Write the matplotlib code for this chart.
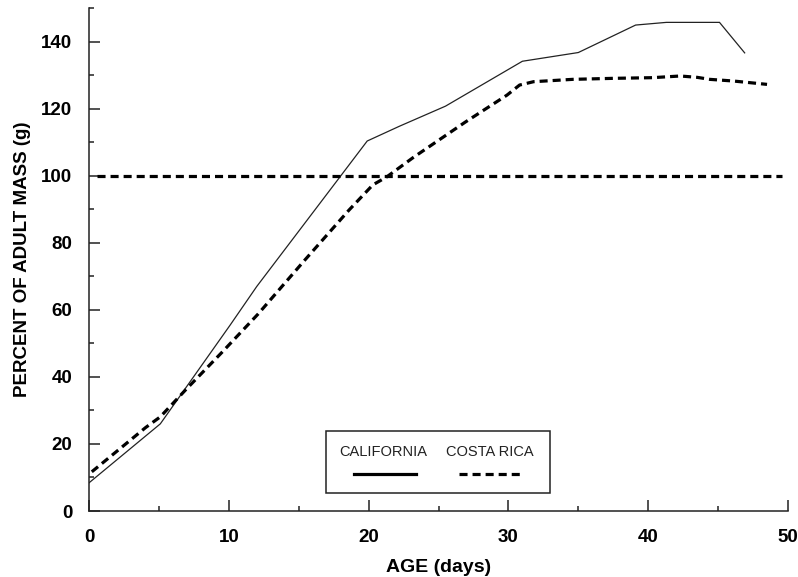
import matplotlib
matplotlib.use('Agg')
import matplotlib.pyplot as plt
from matplotlib.patches import Rectangle
from matplotlib.ticker import MultipleLocator

# California (solid line)
ca_age = [0, 5.1, 10.1, 12.0, 19.9, 22.2, 25.5, 31.0, 35.0, 39.1, 41.3, 45.1, 46.9]
ca_mass = [8.4, 26.0, 55.5, 67.0, 110.4, 114.8, 120.8, 134.2, 136.8, 145.0, 145.8, 145.8, 136.7]

# Costa Rica (dashed line)
cr_age = [0.2, 2.1, 4.05, 5.1, 6.9, 9.5, 12.1, 15.4, 18.6, 20.3, 21.3, 23.2, 26.9, 29.9, 30.8,
          31.8, 34.6, 37.5, 40.3, 42.3, 43.5, 44.4, 46.1, 48.5]
cr_mass = [11.7, 18.2, 24.9, 28.1, 36.1, 47.3, 58.8, 74.7, 89.8, 97.3, 99.7, 105.5, 116.0, 124.1, 127.1,
           128.1, 128.8, 129.1, 129.3, 129.8, 129.4, 128.8, 128.3, 127.3]

adult_age = [0.6, 49.6]
adult_mass = [100, 100]

legend_labels = ['CALIFORNIA', 'COSTA RICA']


def main():
    plt.rcParams['font.family'] = ['Liberation Sans', 'DejaVu Sans']
    plt.rcParams['lines.scale_dashes'] = False

    fig = plt.figure(figsize=(7.98, 5.77), dpi=100)
    ax = fig.add_axes([89 / 798, 66 / 577, 699 / 798, 502.7 / 577])

    dash = (0, (5.8, 3.6))
    ax.plot(ca_age, ca_mass, color='#222222', lw=0.9, solid_joinstyle='miter')
    ax.plot(cr_age, cr_mass, color='black', lw=2.3, linestyle=dash)
    ax.plot(adult_age, adult_mass, color='black', lw=2.3, linestyle=dash)

    ax.set_xlim(0, 50)
    ax.set_ylim(0, 150)
    ax.xaxis.set_major_locator(MultipleLocator(10))
    ax.xaxis.set_minor_locator(MultipleLocator(5))
    ax.yaxis.set_minor_locator(MultipleLocator(10))
    ax.set_yticks([0, 20, 40, 60, 80, 100, 120, 140])

    for side in ['top', 'right']:
        ax.spines[side].set_visible(False)
    for side in ['left', 'bottom']:
        ax.spines[side].set_linewidth(1.1)
        ax.spines[side].set_color('#222222')

    ax.tick_params(which='major', direction='in', length=8, width=1.1, color='#222222',
                   labelsize=13.5)
    ax.tick_params(which='minor', direction='in', length=3.5, width=1.1, color='#222222')
    ax.tick_params(axis='x', pad=13)
    ax.tick_params(axis='y', pad=12)
    for lab in ax.get_xticklabels() + ax.get_yticklabels():
        lab.set_fontweight('bold')

    ax.set_xlabel('AGE (days)', fontsize=14, fontweight='bold', labelpad=9)
    ax.set_ylabel('PERCENT OF ADULT MASS (g)', fontsize=13.5, fontweight='bold', labelpad=7)

    # legend box drawn by hand: labels above the line samples
    ax.add_patch(Rectangle((0.339, 0.036), 0.3205, 0.123, transform=ax.transAxes,
                           fill=False, edgecolor='#222222', lw=1.1, clip_on=False))
    ax.text(0.421, 0.118, legend_labels[0], transform=ax.transAxes, ha='center', va='center',
            fontsize=10.5, color='#222222')
    ax.text(0.574, 0.118, legend_labels[1], transform=ax.transAxes, ha='center', va='center',
            fontsize=10.5, color='#222222')
    ax.plot([0.379, 0.468], [0.0736, 0.0736], transform=ax.transAxes, color='black', lw=2.3)
    ax.plot([0.529, 0.619], [0.0736, 0.0736], transform=ax.transAxes, color='black', lw=2.3,
            linestyle=dash)

    fig.savefig('out.png', dpi=100)


if __name__ == '__main__':
    main()
